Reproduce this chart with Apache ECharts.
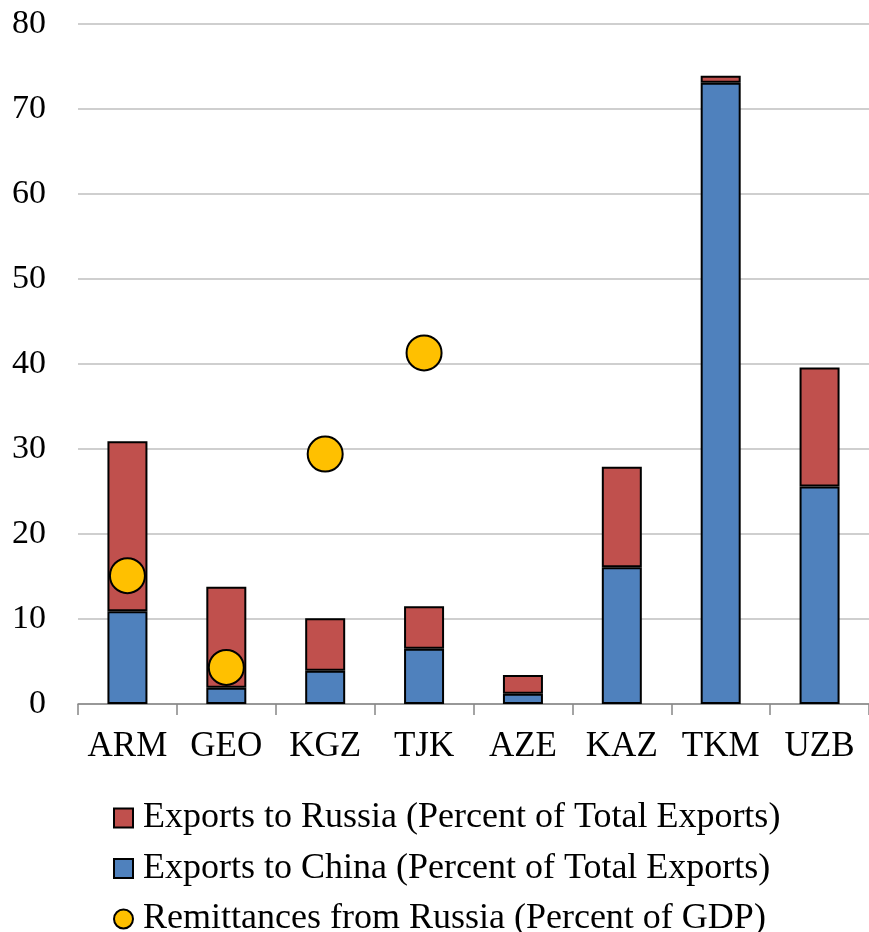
<!DOCTYPE html>
<html>
<head>
<meta charset="utf-8">
<script src="https://cdn.jsdelivr.net/npm/echarts@6/dist/echarts.min.js"></script>
<style>
  html, body { margin: 0; padding: 0; background: #fff; }
  #chart { width: 869px; height: 932px; }
</style>
</head>
<body>
<div id="chart"></div>
<script>
const countries = ['ARM', 'GEO', 'KGZ', 'TJK', 'AZE', 'KAZ', 'TKM', 'UZB'];
const exportsChina = [10.9, 1.9, 3.9, 6.5, 1.2, 16.1, 73.1, 25.6];
const exportsRussia = [20.0, 11.9, 6.2, 5.0, 2.2, 11.8, 0.8, 14.0];
const remittances = [15.1, 4.3, 29.4, 41.3, null, null, null, null];

const FONT = '"Liberation Serif", "DejaVu Serif", serif';

const chart = echarts.init(document.getElementById('chart'), null, { renderer: 'canvas' });

chart.setOption({
    backgroundColor: '#fff',
    animation: false,
    textStyle: { fontFamily: FONT, color: '#000' },
    grid: {
        left: 78,
        right: -7,
        top: 24,
        bottom: 228
    },
    legend: {
        orient: 'vertical',
        left: 113,
        top: 800,
        height: 160,
        padding: 0,
        itemWidth: 19,
        itemHeight: 19,
        itemGap: 14.5,
        data: [
            { name: 'Exports to Russia (Percent of Total Exports)', icon: 'rect' },
            { name: 'Exports to China (Percent of Total Exports)', icon: 'rect' },
            { name: 'Remittances from Russia (Percent of GDP)', icon: 'circle' }
        ],
        textStyle: {
            fontFamily: FONT,
            fontSize: 36,
            color: '#000',
            padding: [0, 0, 0, 5]
        }
    },
    xAxis: {
        type: 'category',
        data: countries,
        axisLine: { lineStyle: { color: '#868686', width: 1.5 } },
        axisTick: { show: true, length: 11, lineStyle: { color: '#868686', width: 1.5 } },
        axisLabel: { fontFamily: FONT, fontSize: 35, color: '#000', margin: 25, interval: 0 },
        splitLine: { show: false }
    },
    yAxis: {
        type: 'value',
        min: 0,
        max: 80,
        interval: 10,
        axisLine: { show: false },
        axisTick: { show: false },
        axisLabel: { fontFamily: FONT, fontSize: 34, color: '#000', margin: 32 },
        splitLine: { lineStyle: { color: '#bfbfbf', width: 1.7 } }
    },
    series: [
        {
            name: 'Exports to China (Percent of Total Exports)',
            type: 'bar',
            stack: 'exports',
            barWidth: 40,
            data: exportsChina,
            itemStyle: { color: '#4f81bd', borderColor: '#000', borderWidth: 2 }
        },
        {
            name: 'Exports to Russia (Percent of Total Exports)',
            type: 'bar',
            stack: 'exports',
            barWidth: 40,
            data: exportsRussia,
            itemStyle: { color: '#c0504d', borderColor: '#000', borderWidth: 2 }
        },
        {
            name: 'Remittances from Russia (Percent of GDP)',
            type: 'scatter',
            symbol: 'circle',
            symbolSize: 35,
            data: remittances,
            z: 5,
            itemStyle: { color: '#ffc000', borderColor: '#000', borderWidth: 2, opacity: 1 }
        }
    ]
});
</script>
</body>
</html>
